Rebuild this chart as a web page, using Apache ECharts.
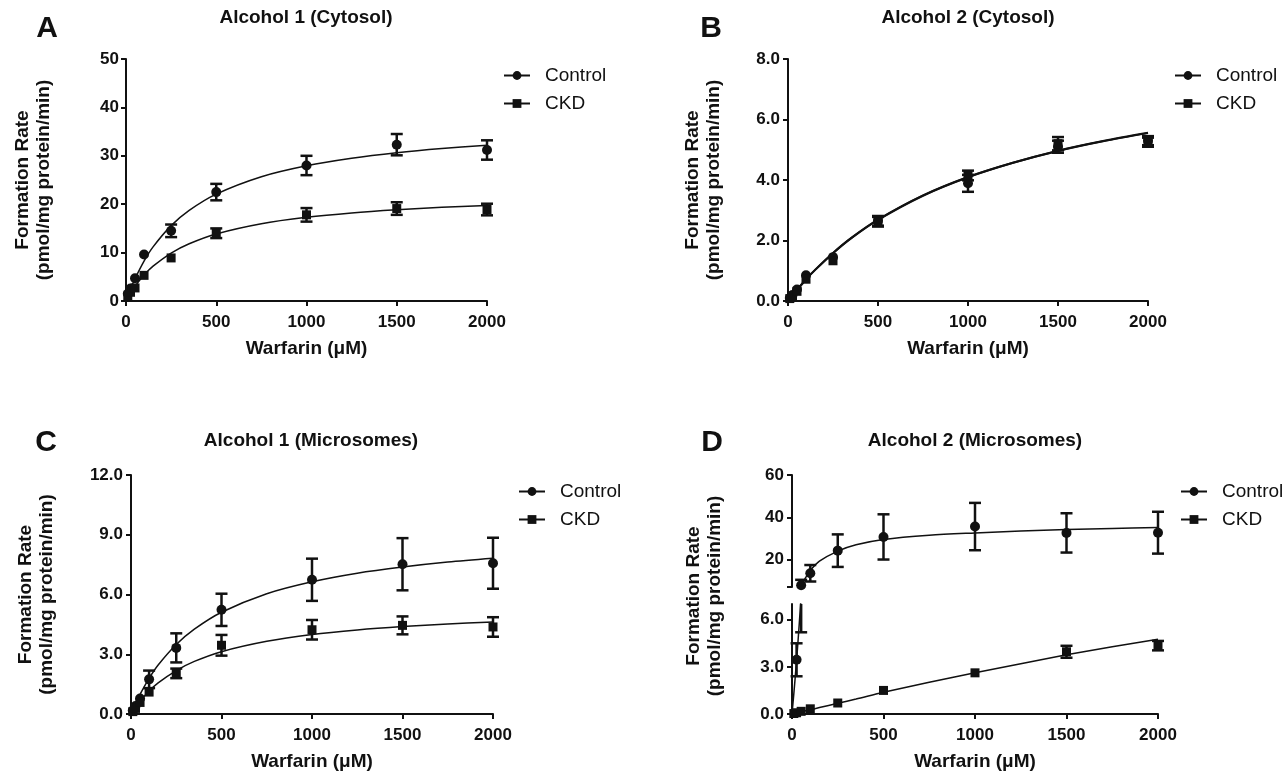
<!DOCTYPE html>
<html>
<head>
<meta charset="utf-8">
<script src="https://cdn.jsdelivr.net/npm/echarts@6/dist/echarts.min.js"></script>
<style>
  html, body { margin: 0; padding: 0; background: #fff; }
  #main { width: 1285px; height: 773px; }
</style>
</head>
<body>
<div id="main"></div>
<script>
// warfarin concentrations (uM)
var conc = [10, 25, 50, 100, 250, 500, 1000, 1500, 2000]
// x points of the fitted curves
var fitX = [0, 25, 50, 100, 150, 250, 350, 500, 750, 1000, 1250, 1500, 1750, 2000]
var fitXD = [0, 10, 25, 40, 50, 75, 100, 150, 250, 350, 500, 750, 1000, 1250, 1500, 1750, 2000]

// A - Alcohol 1 (Cytosol)
var aCtrl = [1.5, 2.6, 4.7, 9.6, 14.5, 22.5, 28.0, 32.3, 31.2]
var aCtrlSd = [0.2, 0.3, 0.4, 0.5, 1.3, 1.7, 2.0, 2.2, 2.0]
var aCkd = [1.0, 1.8, 2.7, 5.3, 8.9, 14.0, 17.8, 19.1, 18.9]
var aCkdSd = [0.2, 0.3, 0.3, 0.4, 0.5, 1.0, 1.4, 1.3, 1.2]
var aCtrlFit = [0, 2.47, 4.63, 8.26, 11.18, 15.57, 18.73, 22.09, 25.68, 27.94, 29.5, 30.65, 31.52, 32.2]
var aCkdFit = [0, 1.62, 3.03, 5.35, 7.19, 9.91, 11.84, 13.86, 15.97, 17.29, 18.2, 18.85, 19.35, 19.74]

// B - Alcohol 2 (Cytosol)
var bCtrl = [0.1, 0.2, 0.38, 0.85, 1.45, 2.65, 3.89, 5.1, 5.3]
var bCtrlSd = [0.02, 0.03, 0.05, 0.08, 0.1, 0.16, 0.28, 0.2, 0.15]
var bCkd = [0.08, 0.17, 0.32, 0.72, 1.33, 2.62, 4.15, 5.2, 5.25]
var bCkdSd = [0.02, 0.03, 0.05, 0.08, 0.1, 0.16, 0.16, 0.22, 0.15]
var bCtrlFit = [0, 0.19, 0.37, 0.72, 1.03, 1.59, 2.08, 2.69, 3.49, 4.10, 4.57, 4.96, 5.28, 5.55]
var bCkdFit = [0, 0.18, 0.36, 0.71, 1.02, 1.58, 2.07, 2.68, 3.48, 4.09, 4.57, 4.97, 5.29, 5.56]

// C - Alcohol 1 (Microsomes)
var cCtrl = [0.18, 0.4, 0.78, 1.74, 3.32, 5.23, 6.74, 7.52, 7.57]
var cCtrlSd = [0.05, 0.08, 0.12, 0.44, 0.73, 0.81, 1.06, 1.31, 1.28]
var cCkd = [0.12, 0.28, 0.58, 1.1, 2.04, 3.45, 4.23, 4.45, 4.37]
var cCkdSd = [0.03, 0.05, 0.08, 0.12, 0.24, 0.52, 0.49, 0.45, 0.49]
var cCtrlFit = [0, 0.52, 0.99, 1.79, 2.46, 3.49, 4.26, 5.11, 6.04, 6.64, 7.07, 7.38, 7.63, 7.82]
var cCkdFit = [0, 0.34, 0.64, 1.15, 1.56, 2.18, 2.64, 3.13, 3.65, 3.99, 4.22, 4.39, 4.52, 4.62]

// D - Alcohol 2 (Microsomes), broken y axis 0-7 / 7-60
var dCtrl = [null, 3.45, 7.8, 13.5, 24.2, 30.7, 35.6, 32.6, 32.7]
var dCtrlSd = [null, 1.05, 2.6, 3.9, 7.7, 10.7, 11.2, 9.3, 9.9]
var dCkd = [0.03, 0.08, 0.17, 0.33, 0.7, 1.5, 2.62, 3.96, 4.35]
var dCkdSd = [0.01, 0.02, 0.03, 0.04, 0.06, 0.1, 0.12, 0.38, 0.3]
var dCtrlFit = [0, 1.3, 3.4, 5.8, 7.5, 11.5, 14.8, 19.2, 24.0, 27.0, 29.5, 31.5, 32.6, 33.5, 34.2, 34.7, 35.1]
var dCkdFit = [0, 0.07, 0.14, 0.27, 0.41, 0.68, 0.95, 1.38, 2.02, 2.62, 3.2, 3.77, 4.28, 4.76]

var ink = '#111'
var font = "'Liberation Sans', Arial, Helvetica, sans-serif"

var pts = function (xs, ys) {
    var res = []
    for (var i = 0; i < xs.length; i++) {
        if (ys[i] != null) res.push([xs[i], ys[i]])
    }
    return res
}

var bars = function (xs, ys, sd) {
    var res = []
    for (var i = 0; i < xs.length; i++) {
        if (ys[i] != null) res.push([xs[i], ys[i] - sd[i], ys[i] + sd[i]])
    }
    return res
}

// error bar: vertical line with caps, cut to the grid
// (like prism, a bar shorter than the symbol is not drawn)
var renderBar = function (params, api) {
    var x = api.value(0)
    var top = api.coord([x, api.value(2)])
    var bot = api.coord([x, api.value(1)])
    if (bot[1] - top[1] < 9) return
    var cs = params.coordSys
    var y0 = cs.y
    var y1 = cs.y + cs.height
    var t = Math.max(top[1], y0)
    var b = Math.min(bot[1], y1)
    if (t >= b) return
    var st = { stroke: ink, lineWidth: 2.5 }
    var kids = [{ type: 'line', shape: { x1: top[0], y1: t, x2: top[0], y2: b }, style: st }]
    if (top[1] >= y0) kids.push({ type: 'line', shape: { x1: top[0] - 6, y1: top[1], x2: top[0] + 6, y2: top[1] }, style: st })
    if (bot[1] <= y1) kids.push({ type: 'line', shape: { x1: bot[0] - 6, y1: bot[1], x2: bot[0] + 6, y2: bot[1] }, style: st })
    return { type: 'group', children: kids }
}

var series = []
var addGroup = function (g, name, symbol, fx, fy, ys, sd, lw) {
    series.push({
        name: name, type: 'line', xAxisIndex: g, yAxisIndex: g,
        data: pts(fx, fy), smooth: 0.3, symbol: symbol, showSymbol: false,
        lineStyle: { color: ink, width: lw }, itemStyle: { color: ink },
        silent: true, z: 2,
    })
    series.push({
        name: name, type: 'custom', xAxisIndex: g, yAxisIndex: g,
        data: bars(conc, ys, sd), renderItem: renderBar, silent: true, z: 3,
    })
    series.push({
        name: name, type: 'scatter', xAxisIndex: g, yAxisIndex: g,
        data: pts(conc, ys), symbol: symbol, symbolSize: symbol == 'circle' ? 10 : 9,
        itemStyle: { color: ink, opacity: 1 }, silent: true, z: 4,
    })
}

addGroup(0, 'Control', 'circle', fitX, aCtrlFit, aCtrl, aCtrlSd, 1.5)
addGroup(0, 'CKD', 'rect', fitX, aCkdFit, aCkd, aCkdSd, 1.5)
addGroup(1, 'Control', 'circle', fitX, bCtrlFit, bCtrl, bCtrlSd, 2)
addGroup(1, 'CKD', 'rect', fitX, bCkdFit, bCkd, bCkdSd, 2)
addGroup(2, 'Control', 'circle', fitX, cCtrlFit, cCtrl, cCtrlSd, 1.5)
addGroup(2, 'CKD', 'rect', fitX, cCkdFit, cCkd, cCkdSd, 1.5)
addGroup(3, 'Control', 'circle', fitXD, dCtrlFit, dCtrl, dCtrlSd, 1.5)
addGroup(3, 'CKD', 'rect', fitX, dCkdFit, dCkd, dCkdSd, 1.5)
addGroup(4, 'Control', 'circle', fitXD, dCtrlFit, dCtrl, dCtrlSd, 1.5)

var grids = [
    { left: 126, top: 59, width: 361, height: 242 },
    { left: 788, top: 59, width: 360, height: 242 },
    { left: 131, top: 475, width: 362, height: 241 },
    { left: 792, top: 604, width: 366, height: 113 },
    { left: 792, top: 475, width: 366, height: 112 },
]

var axisLine = { show: true, lineStyle: { color: ink, width: 2 } }
var axisTick = { show: true, length: 5, lineStyle: { color: ink, width: 2 } }
var tickFont = { color: ink, fontSize: 17, fontWeight: 'bold', fontFamily: font }
var nameFont = { color: ink, fontSize: 19, fontWeight: 'bold', fontFamily: font, lineHeight: 21 }
var yName = 'Formation Rate\n(pmol/mg protein/min)'
var oneDec = function (v) { return v.toFixed(1) }
var plain = function (v) { return String(v) }

var xAxes = []
for (var i = 0; i < 5; i++) {
    xAxes.push({
        type: 'value', gridIndex: i, min: 0, max: 2000, interval: 500,
        show: i != 4,
        name: i == 4 ? '' : 'Warfarin (μM)', nameLocation: 'middle', nameGap: 37,
        nameTextStyle: nameFont,
        axisLine: axisLine, axisTick: axisTick, splitLine: { show: false },
        axisLabel: Object.assign({ margin: 13, formatter: plain }, tickFont),
    })
}

var yAxes = [
    {
        type: 'value', gridIndex: 0, min: 0, max: 50, interval: 10,
        name: yName, nameLocation: 'middle', nameGap: 72, nameTextStyle: nameFont,
        axisLabel: Object.assign({ margin: 7, formatter: plain }, tickFont),
    },
    {
        type: 'value', gridIndex: 1, min: 0, max: 8, interval: 2,
        name: yName, nameLocation: 'middle', nameGap: 64, nameTextStyle: nameFont,
        axisLabel: Object.assign({ margin: 8, formatter: oneDec }, tickFont),
    },
    {
        type: 'value', gridIndex: 2, min: 0, max: 12, interval: 3,
        name: yName, nameLocation: 'middle', nameGap: 74, nameTextStyle: nameFont,
        axisLabel: Object.assign({ margin: 8, formatter: oneDec }, tickFont),
    },
    {
        type: 'value', gridIndex: 3, min: 0, max: 7,
        axisLabel: Object.assign({ margin: 8, formatter: oneDec, customValues: [0, 3, 6] }, tickFont),
        axisTick: Object.assign({ customValues: [0, 3, 6] }, axisTick),
    },
    {
        type: 'value', gridIndex: 4, min: 7, max: 60,
        axisLabel: Object.assign({ margin: 8, formatter: plain, customValues: [20, 40, 60] }, tickFont),
        axisTick: Object.assign({ customValues: [7, 20, 40, 60] }, axisTick),
    },
]
yAxes.forEach(function (y) {
    y.axisLine = axisLine
    if (!y.axisTick) y.axisTick = axisTick
    y.splitLine = { show: false }
})

var titleAt = function (text, x, y, size) {
    return {
        text: text, left: x, top: y, textAlign: 'center', textVerticalAlign: 'middle', padding: 0,
        textStyle: { color: ink, fontSize: size, fontWeight: 'bold', fontFamily: font },
    }
}

var legendAt = function (x, y) {
    return {
        data: ['Control', 'CKD'], orient: 'vertical', left: x, top: y, padding: 0,
        itemWidth: 26, itemHeight: 11, itemGap: 9, selectedMode: false,
        lineStyle: { width: 2 },
        textStyle: { color: ink, fontSize: 19, fontFamily: font, padding: [0, 0, 0, 10] },
    }
}

var option = {
    animation: false,
    backgroundColor: '#fff',
    textStyle: { fontFamily: font },
    title: [
        titleAt('A', 47, 29, 30),
        titleAt('B', 711, 29, 30),
        titleAt('C', 46, 443, 30),
        titleAt('D', 712, 443, 30),
        titleAt('Alcohol 1 (Cytosol)', 306, 18, 19),
        titleAt('Alcohol 2 (Cytosol)', 968, 18, 19),
        titleAt('Alcohol 1 (Microsomes)', 311, 441, 19),
        titleAt('Alcohol 2 (Microsomes)', 975, 441, 19),
    ],
    legend: [
        legendAt(503, 66),
        legendAt(1174, 66),
        legendAt(518, 482),
        legendAt(1180, 482),
    ],
    graphic: [{
        type: 'text', x: 704, y: 596, rotation: Math.PI / 2,
        style: {
            text: yName, fill: ink, font: 'bold 19px ' + font, lineHeight: 21,
            align: 'center', verticalAlign: 'middle',
        },
    }],
    grid: grids,
    xAxis: xAxes,
    yAxis: yAxes,
    series: series,
}

var chart = echarts.init(document.getElementById('main'))
chart.setOption(option)
</script>
</body>
</html>
